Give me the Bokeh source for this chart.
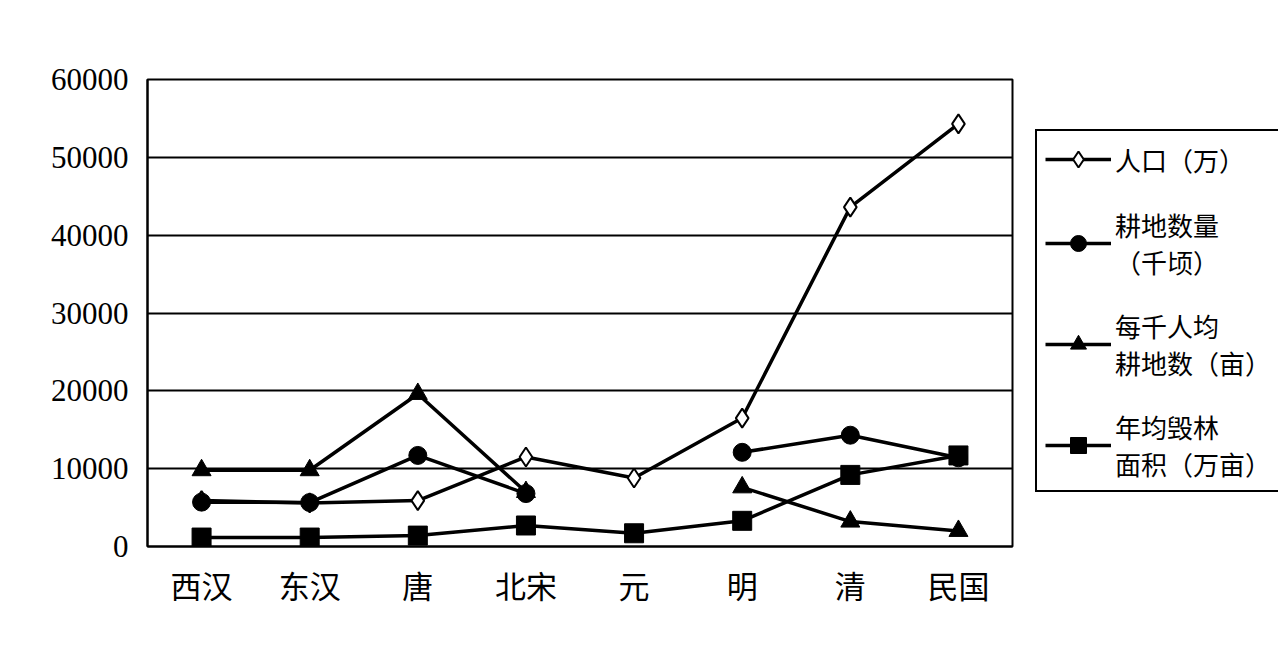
import numpy as np
from bokeh.plotting import figure
from bokeh.models import ColumnDataSource, Legend, LegendItem, FactorRange, FixedTicker, NumeralTickFormatter
from bokeh.embed import file_html
from bokeh.resources import INLINE

dynasties = ["西汉", "东汉", "唐", "北宋", "元", "明", "清", "民国"]
population = [5900, 5600, 5900, 11500, 8800, 16500, 43600, 54300]
farmland = [5700, 5650, 11700, 6800, np.nan, 12100, 14300, 11400]
per_capita = [9800, 9800, 19600, 7000, np.nan, 7600, 3200, 2000]
deforest = [1150, 1150, 1400, 2700, 1700, 3300, 9200, 11700]
series_labels = ["人口（万）", "耕地数量\n（千顷）", "每千人均\n耕地数（亩）", "年均毁林\n面积（万亩）"]
y_ticks = [0, 10000, 20000, 30000, 40000, 50000, 60000]

src = ColumnDataSource(dict(x=dynasties, pop=population, farm=farmland, per=per_capita, defo=deforest))

p = figure(frame_width=865, frame_height=467, x_range=FactorRange(*dynasties, range_padding=0),
           y_range=(0, 60000), output_backend="svg", toolbar_location=None,
           min_border_left=147, min_border_top=79, min_border_bottom=90, min_border_right=0)
p.outline_line_color = "black"
p.outline_line_width = 2
p.xgrid.grid_line_color = None
p.ygrid.grid_line_color = "black"
p.ygrid.grid_line_width = 2
p.yaxis.ticker = FixedTicker(ticks=y_ticks)
p.yaxis.formatter = NumeralTickFormatter(format="0")
p.yaxis.major_tick_line_color = None
p.yaxis.minor_tick_line_color = None
p.yaxis.axis_line_color = "black"
p.yaxis.axis_line_width = 2
p.yaxis.major_label_text_font = "Liberation Serif"
p.yaxis.major_label_text_font_size = "31px"
p.yaxis.major_label_text_color = "black"
p.yaxis.major_label_standoff = 13
p.xaxis.major_tick_line_color = None
p.xaxis.axis_line_color = "black"
p.xaxis.axis_line_width = 2
p.xaxis.major_label_text_font = "Noto Sans CJK SC"
p.xaxis.major_label_text_font_size = "31px"
p.xaxis.major_label_text_color = "black"
p.xaxis.major_label_standoff = 9

lw = 3.5
l1 = p.line("x", "pop", source=src, line_color="black", line_width=lw)
m1 = p.scatter("x", "pop", source=src, marker="diamond", size=19, fill_color="white", line_color="black", line_width=2)
l2 = p.line("x", "farm", source=src, line_color="black", line_width=lw)
m2 = p.scatter("x", "farm", source=src, marker="circle", size=18, fill_color="black", line_color="black")
l3 = p.line("x", "per", source=src, line_color="black", line_width=lw)
m3 = p.scatter("x", "per", source=src, marker="triangle", size=19, fill_color="black", line_color="black")
l4 = p.line("x", "defo", source=src, line_color="black", line_width=lw)
m4 = p.scatter("x", "defo", source=src, marker="square", size=19, fill_color="black", line_color="black")

legend = Legend(items=[
    LegendItem(label=series_labels[0], renderers=[l1, m1]),
    LegendItem(label=series_labels[1], renderers=[l2, m2]),
    LegendItem(label=series_labels[2], renderers=[l3, m3]),
    LegendItem(label=series_labels[3], renderers=[l4, m4]),
], location=(23, 54))
legend.border_line_color = "black"
legend.border_line_alpha = 1.0
legend.border_line_width = 2
legend.label_text_font = "Noto Sans CJK SC"
legend.label_text_font_size = "26px"
legend.label_text_color = "black"
legend.label_text_line_height = 1.15
legend.glyph_width = 66
legend.glyph_height = 40
legend.label_standoff = 4
legend.spacing = 27
legend.padding = 8
legend.margin = 0
p.add_layout(legend, "right")

open("out.html", "w").write(file_html(p, INLINE))
